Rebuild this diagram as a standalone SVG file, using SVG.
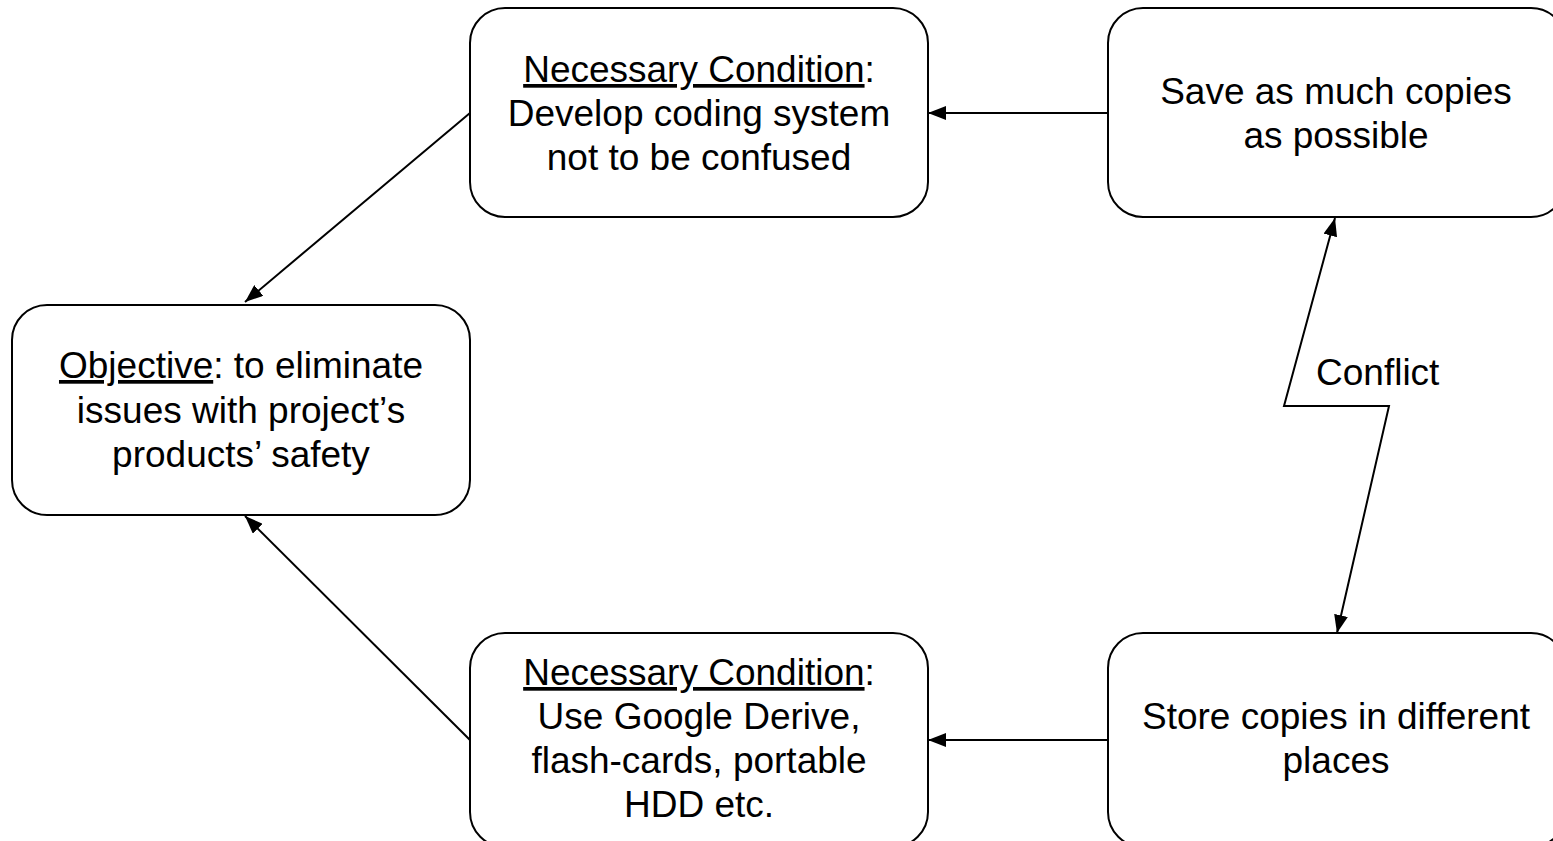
<svg xmlns="http://www.w3.org/2000/svg" width="1553" height="841" viewBox="0 0 1553 841">
<style>
.box{fill:#fff;stroke:#000;stroke-width:2}
.t{font-family:"Liberation Sans",Arial,sans-serif;font-size:37px;fill:#000;text-anchor:middle}
.u{text-decoration:underline}
.c{fill:none;stroke:#000;stroke-width:2}
</style>
<defs>
<marker id="ah" viewBox="0 0 18 14" refX="18" refY="7" markerWidth="18" markerHeight="14" markerUnits="userSpaceOnUse" orient="auto-start-reverse">
<path d="M0,0 L18,7 L0,14 z" fill="#000"/>
</marker>
</defs>
<g id="connectors">
<line class="c" x1="1108" y1="113" x2="928" y2="113" marker-end="url(#ah)"/>
<line class="c" x1="1108" y1="740" x2="928" y2="740" marker-end="url(#ah)"/>
<line class="c" x1="470" y1="113" x2="245" y2="302" marker-end="url(#ah)"/>
<line class="c" x1="470" y1="740" x2="245" y2="516" marker-end="url(#ah)"/>
<path class="c" d="M1335,218 L1284,406 L1389,406 L1337,633" marker-start="url(#ah)" marker-end="url(#ah)"/>
<text class="t" x="1316" y="385" style="text-anchor:start">Conflict</text>
</g>
<g id="nc-top">
<rect class="box" x="470" y="8" width="458" height="209" rx="35"/>
<text class="t" x="699" y="82"><tspan class="u">Necessary Condition</tspan>:</text>
<text class="t" x="699" y="126">Develop coding system</text>
<text class="t" x="699" y="170">not to be confused</text>
</g>
<g id="save">
<rect class="box" x="1108" y="8" width="458" height="209" rx="35"/>
<text class="t" x="1336" y="104">Save as much copies</text>
<text class="t" x="1336" y="148">as possible</text>
</g>
<g id="objective">
<rect class="box" x="12" y="305" width="458" height="210" rx="35"/>
<text class="t" x="241" y="378"><tspan class="u">Objective</tspan>: to eliminate</text>
<text class="t" x="241" y="423">issues with project’s</text>
<text class="t" x="241" y="467">products’ safety</text>
</g>
<g id="nc-bottom">
<rect class="box" x="470" y="633" width="458" height="214" rx="35"/>
<text class="t" x="699" y="685"><tspan class="u">Necessary Condition</tspan>:</text>
<text class="t" x="699" y="729">Use Google Derive,</text>
<text class="t" x="699" y="773">flash-cards, portable</text>
<text class="t" x="699" y="817">HDD etc.</text>
</g>
<g id="store">
<rect class="box" x="1108" y="633" width="458" height="214" rx="35"/>
<text class="t" x="1336" y="729">Store copies in different</text>
<text class="t" x="1336" y="773">places</text>
</g>
</svg>
